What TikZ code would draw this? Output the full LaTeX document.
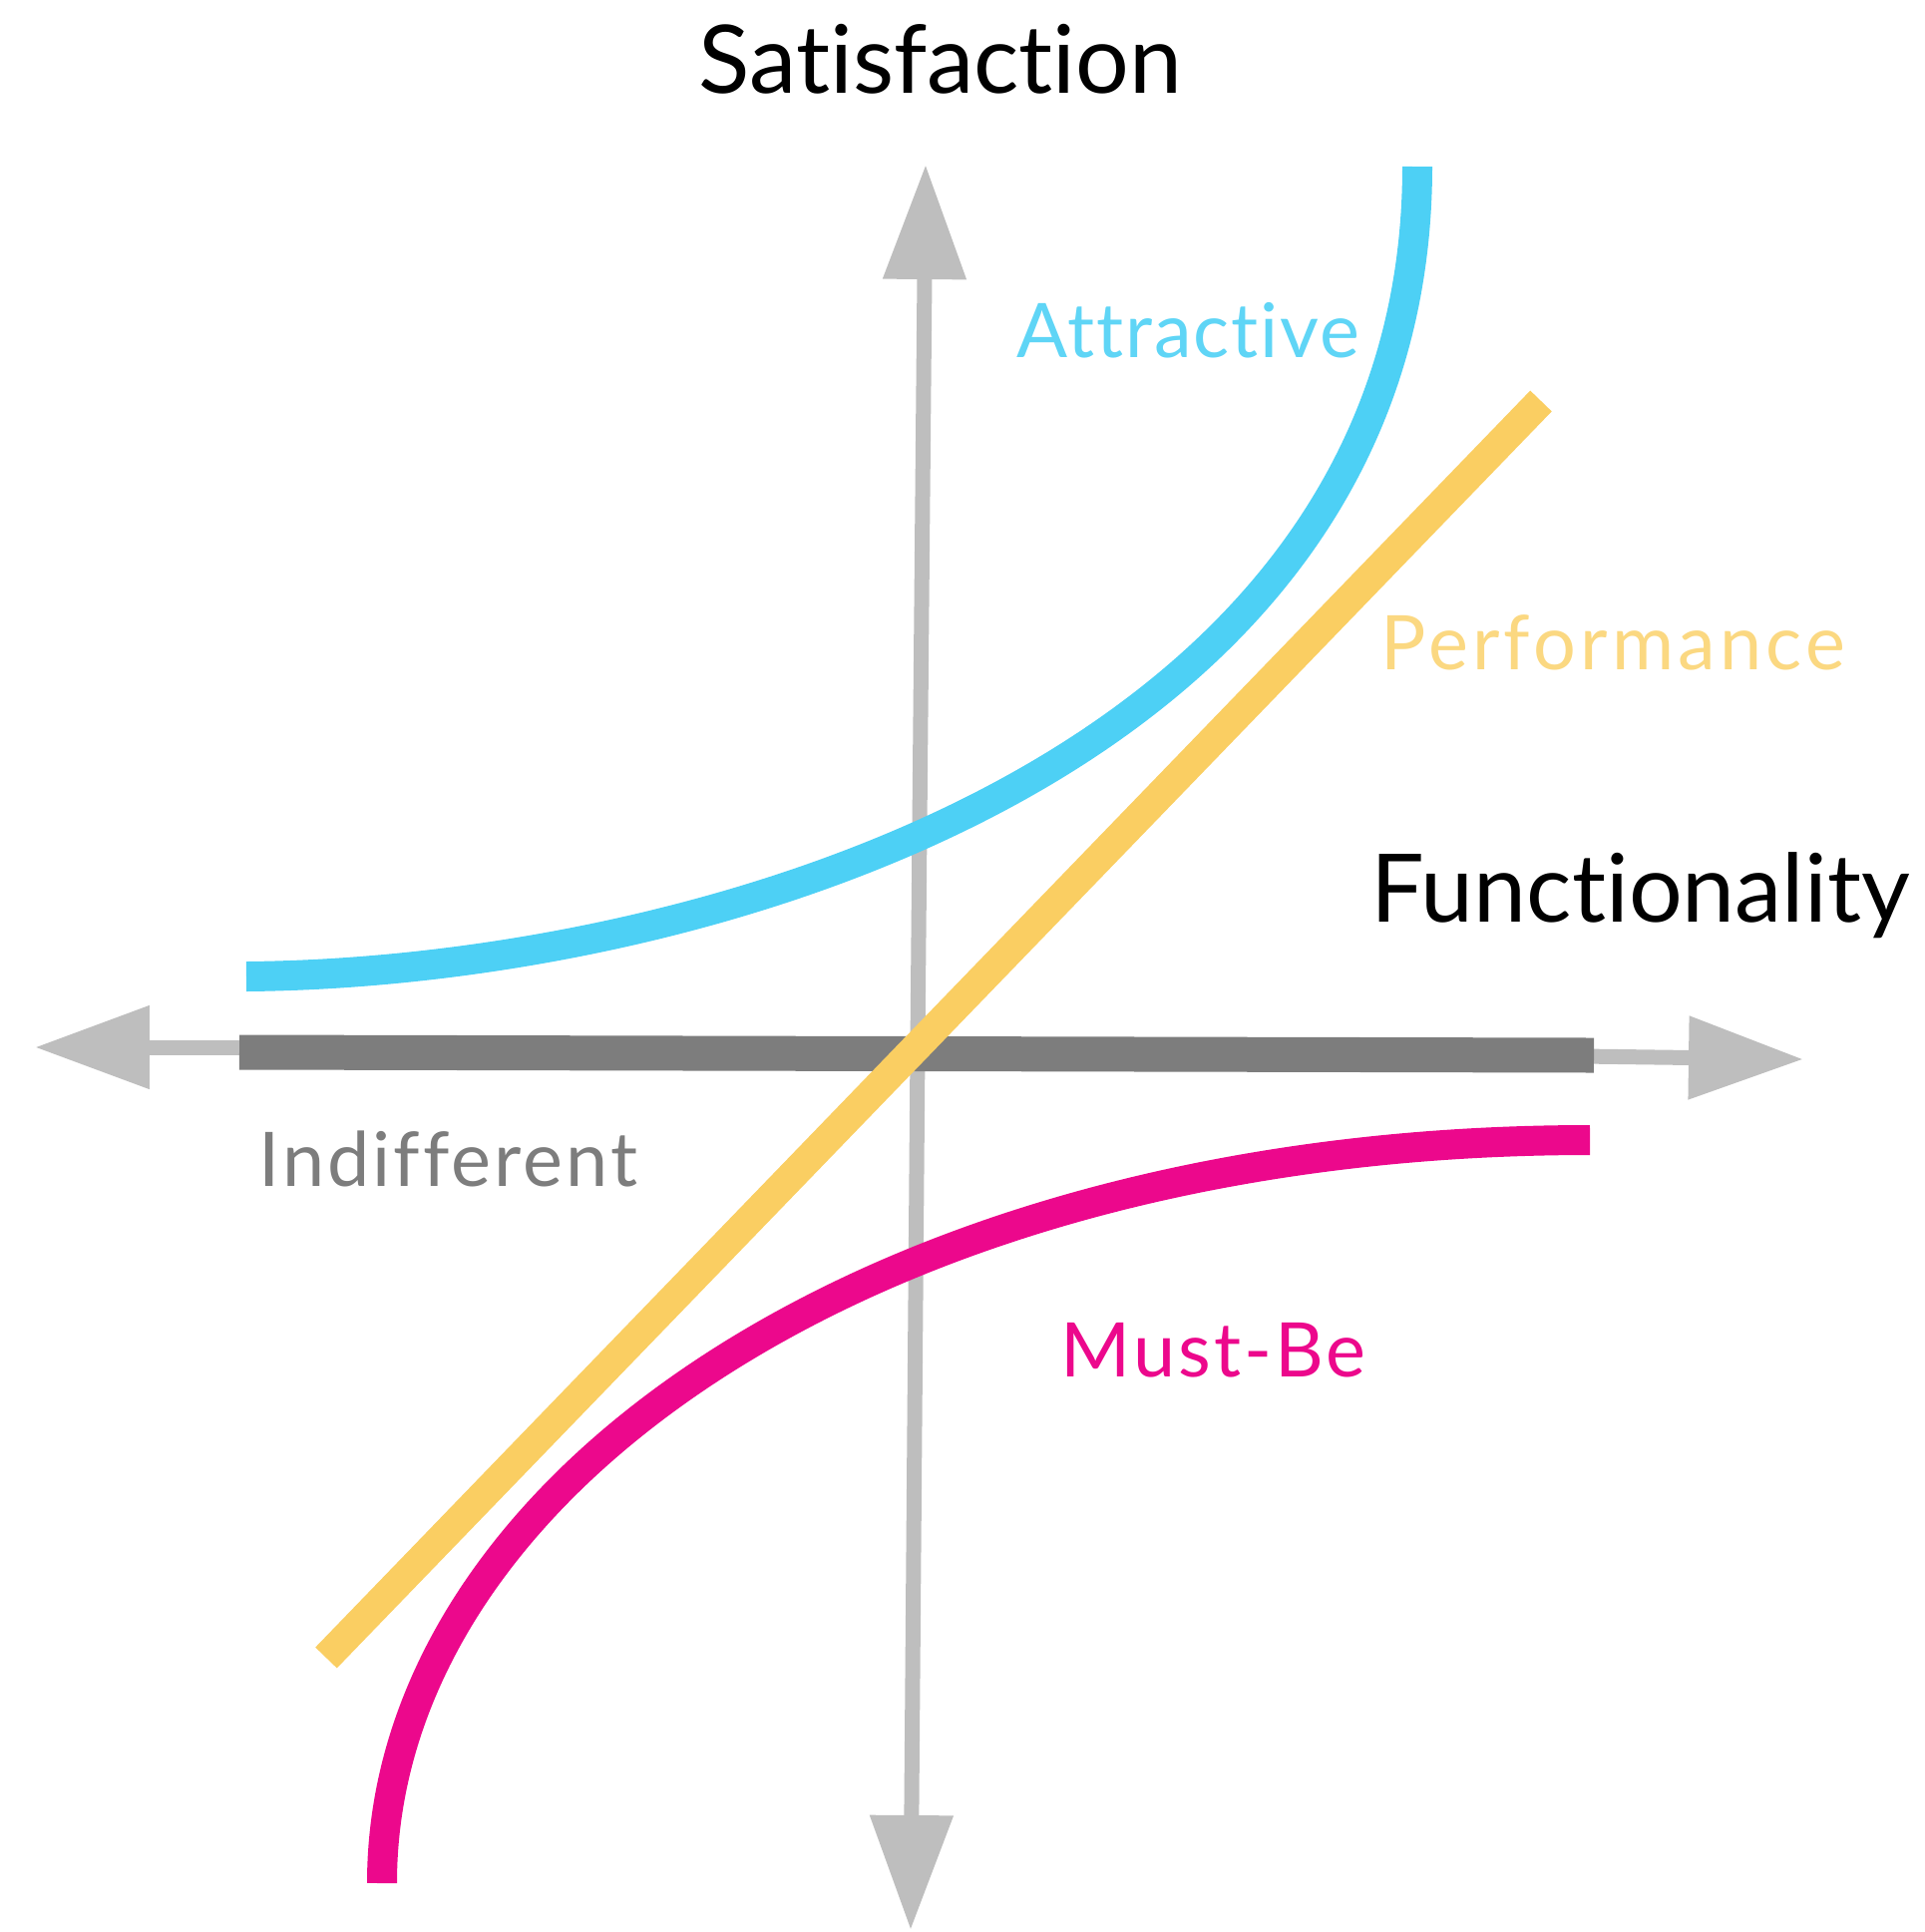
\documentclass[tikz,border=0pt]{standalone}
\usepackage{fontspec}
\setmainfont[Ligatures=NoCommon]{Lato}
\usepackage{tikz}
\usetikzlibrary{arrows.meta}
\definecolor{attrblue}{RGB}{77,208,245}
\definecolor{perfyellow}{RGB}{250,206,98}
\definecolor{mustpink}{RGB}{236,8,140}
\definecolor{axisgray}{RGB}{190,190,190}
\definecolor{indgray}{RGB}{125,125,125}

\begin{document}
\begin{tikzpicture}[x=0.1mm, y=-0.1mm]

\tikzstyle{axis} = [draw=axisgray, line width=1.5mm, -{Triangle[length=11.5mm, width=8mm]}]
\tikzstyle{curve} = [line width=3mm, line cap=butt]
\tikzstyle{title} = [font=\fontsize{27pt}{31pt}\selectfont, text=black, inner sep=0pt]
\tikzstyle{label} = [font=\fontsize{21.5pt}{25pt}\selectfont\addfontfeatures{LetterSpace=4}, inner sep=0pt]

\useasboundingbox (0,0) rectangle (1930,1937);

\coordinate (left) at (35,1050);
\coordinate (right) at (1808,1062);
\coordinate (top) at (928,165);
\coordinate (bottom) at (913,1935);
\coordinate (o) at (920,1050);

\draw [axis] (o) -- (left);
\draw [axis] (o) -- (right);
\draw [axis] (o) -- (top);
\draw [axis] (o) -- (bottom);

% indifferent line
\coordinate (ind1) at (240,1055);
\coordinate (ind2) at (1598,1058);
\draw [curve, draw=indgray, line width=3.5mm] (ind1) -- (ind2);

\coordinate (att1) at (247,979);
\coordinate (att2) at (1421,167);
\draw [curve, draw=attrblue] (att1) .. controls (700,975) and (1421,770) .. (att2);

\coordinate (perf1) at (327,1662);
\coordinate (perf2) at (1545,402);
\draw [curve, draw=perfyellow] (perf1) -- (perf2);

\coordinate (must1) at (383,1888);
\coordinate (must2) at (1594,1143);
\draw [curve, draw=mustpink] (must1) .. controls (383,1490) and (880,1143) .. (must2);

\node (sat) [title, anchor=base] at (943,93) {Satisfaction};
\node (func) [title, anchor=base west] at (1374,924) {Functionality};
\node (attr) [label, anchor=base west, text=attrblue!90!white, font=\fontsize{21.5pt}{25pt}\selectfont\addfontfeatures{LetterSpace=2.5}] at (1019,358) {Attractive};
\node (perf) [label, anchor=base west, text=perfyellow!80!white, font=\fontsize{21.5pt}{25pt}\selectfont\addfontfeatures{LetterSpace=5.5}] at (1384,671) {Performance};
\node (ind) [label, anchor=base west, text=indgray] at (259,1189) {Indifferent};
\node (must) [label, anchor=base west, text=mustpink] at (1063,1380) {Must-Be};
\end{tikzpicture}
\end{document}
